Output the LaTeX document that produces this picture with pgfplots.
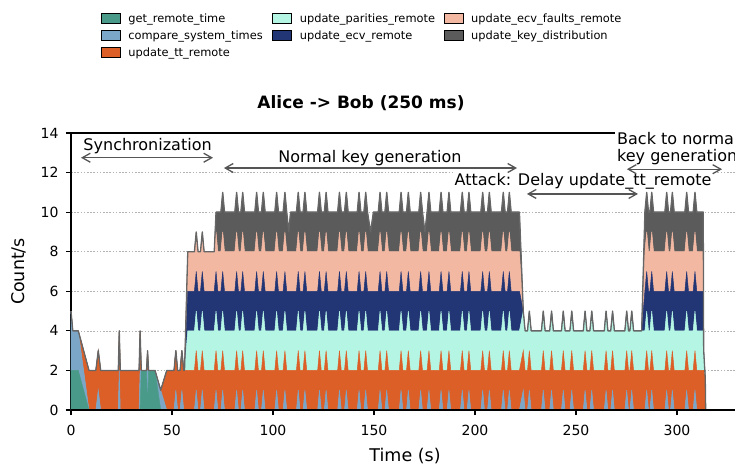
\documentclass[border=0pt]{standalone}
\usepackage{fontspec}
\setmainfont{DejaVu Sans}
\usepackage{pgfplots}
\pgfplotsset{compat=1.18}
\usepackage{pgfplotstable}
\usetikzlibrary{arrows.meta}
\definecolor{getc}{HTML}{4A9A89}
\definecolor{cmpc}{HTML}{7BA6C8}
\definecolor{ttc}{HTML}{DC5F27}
\definecolor{parc}{HTML}{B4F5E4}
\definecolor{ecvc}{HTML}{223575}
\definecolor{fltc}{HTML}{F3B8A2}
\definecolor{keyc}{HTML}{5B5B5B}
\definecolor{linec}{HTML}{666666}
\definecolor{arrowc}{HTML}{555555}

\pgfplotstableread{
t g c u p e f k
0.0 2 3 0 0 0 0 0
0.9 2 2 0 0 0 0 0
3.6 2 2 0 0 0 0 0
8.9 0 0 2 0 0 0 0
12.3 0 0 2 0 0 0 0
13.5 0 1 2 0 0 0 0
14.7 0 0 2 0 0 0 0
23.4 0 0 2 0 0 0 0
23.9 0 2 2 0 0 0 0
24.4 0 0 2 0 0 0 0
33.7 0 0 2 0 0 0 0
34.2 0 2 2 0 0 0 0
34.8 2 0 0 0 0 0 0
37.4 2 0 0 0 0 0 0
37.9 0 2 1 0 0 0 0
38.4 2 0 0 0 0 0 0
41.6 2 0 0 0 0 0 0
44.4 0 1 0 0 0 0 0
47.4 0 0 2 0 0 0 0
51.0 0 0 2 0 0 0 0
51.9 0 1 2 0 0 0 0
52.8 0 0 2 0 0 0 0
54.0 0 0 2 0 0 0 0
54.9 0 1 2 0 0 0 0
55.8 0 0 2 0 0 0 0
56.2 0 0 2 0 0 0 0
57.8 0 0 2 2 2 2 0
61.1 0 0 2 2 2 2 0
62.0 0 1 2 2 2 2 0
62.9 0 0 2 2 2 2 0
64.1 0 0 2 2 2 2 0
65.0 0 1 2 2 2 2 0
65.9 0 0 2 2 2 2 0
70.9 0 0 2 2 2 2 0
71.8 0 1 2 2 2 2 1
72.7 0 0 2 2 2 2 2
74.2 0 0 2 2 2 2 2
75.1 0 1 2 2 2 2 2
76.0 0 0 2 2 2 2 2
81.1 0 0 2 2 2 2 2
82.0 0 1 2 2 2 2 2
82.9 0 0 2 2 2 2 2
84.1 0 0 2 2 2 2 2
85.0 0 1 2 2 2 2 2
85.9 0 0 2 2 2 2 2
91.0 0 0 2 2 2 2 2
91.9 0 1 2 2 2 2 2
92.8 0 0 2 2 2 2 2
94.3 0 0 2 2 2 2 2
95.2 0 1 2 2 2 2 2
96.1 0 0 2 2 2 2 2
100.9 0 0 2 2 2 2 2
101.8 0 1 2 2 2 2 2
102.7 0 0 2 2 2 2 2
105.0 0 0 2 2 2 2 2
105.9 0 1 2 2 2 2 2
106.8 0 0 2 2 2 2 2
107.8 0 0 2 2 2 2 1
108.7 0 0 2 2 2 2 2
111.6 0 0 2 2 2 2 2
112.5 0 1 2 2 2 2 2
113.4 0 0 2 2 2 2 2
114.9 0 0 2 2 2 2 2
115.8 0 1 2 2 2 2 2
116.7 0 0 2 2 2 2 2
122.1 0 0 2 2 2 2 2
123.0 0 1 2 2 2 2 2
123.9 0 0 2 2 2 2 2
125.4 0 0 2 2 2 2 2
126.3 0 1 2 2 2 2 2
127.2 0 0 2 2 2 2 2
132.0 0 0 2 2 2 2 2
132.9 0 1 2 2 2 2 2
133.8 0 0 2 2 2 2 2
135.4 0 0 2 2 2 2 2
136.3 0 1 2 2 2 2 2
137.2 0 0 2 2 2 2 2
141.7 0 0 2 2 2 2 2
142.6 0 1 2 2 2 2 2
143.5 0 0 2 2 2 2 2
145.0 0 0 2 2 2 2 2
145.9 0 1 2 2 2 2 2
146.8 0 0 2 2 2 2 2
148.3 0 0 2 2 2 2 1
149.7 0 0 2 2 2 2 2
152.1 0 0 2 2 2 2 2
153.0 0 1 2 2 2 2 2
153.9 0 0 2 2 2 2 2
155.4 0 0 2 2 2 2 2
156.3 0 1 2 2 2 2 2
157.2 0 0 2 2 2 2 2
162.5 0 0 2 2 2 2 2
163.4 0 1 2 2 2 2 2
164.3 0 0 2 2 2 2 2
166.1 0 0 2 2 2 2 2
167.0 0 1 2 2 2 2 2
167.9 0 0 2 2 2 2 2
172.2 0 0 2 2 2 2 2
173.1 0 1 2 2 2 2 2
174.0 0 0 2 2 2 2 2
175.2 0 0 2 2 2 2 1
176.3 0 0 2 2 2 2 2
177.2 0 1 2 2 2 2 2
178.1 0 0 2 2 2 2 2
182.3 0 0 2 2 2 2 2
183.2 0 1 2 2 2 2 2
184.1 0 0 2 2 2 2 2
186.2 0 0 2 2 2 2 2
187.1 0 1 2 2 2 2 2
188.0 0 0 2 2 2 2 2
192.8 0 0 2 2 2 2 2
193.7 0 1 2 2 2 2 2
194.6 0 0 2 2 2 2 2
196.1 0 0 2 2 2 2 2
197.0 0 1 2 2 2 2 2
197.9 0 0 2 2 2 2 2
202.9 0 0 2 2 2 2 2
203.8 0 1 2 2 2 2 2
204.7 0 0 2 2 2 2 2
206.2 0 0 2 2 2 2 2
207.1 0 1 2 2 2 2 2
208.0 0 0 2 2 2 2 2
213.1 0 0 2 2 2 2 2
214.0 0 1 2 2 2 2 2
214.9 0 0 2 2 2 2 2
216.1 0 0 2 2 2 2 2
217.0 0 1 2 2 2 2 2
217.9 0 0 2 2 2 2 2
222.0 0 0 2 2 2 2 2
223.9 0 1 2 2 0 0 0
224.8 0 0 2 2 0 0 0
226.0 0 0 2 2 0 0 0
226.9 0 1 2 2 0 0 0
227.8 0 0 2 2 0 0 0
232.9 0 0 2 2 0 0 0
233.8 0 1 2 2 0 0 0
234.7 0 0 2 2 0 0 0
237.0 0 0 2 2 0 0 0
237.9 0 1 2 2 0 0 0
238.8 0 0 2 2 0 0 0
242.8 0 0 2 2 0 0 0
243.7 0 1 2 2 0 0 0
244.6 0 0 2 2 0 0 0
247.0 0 0 2 2 0 0 0
247.9 0 1 2 2 0 0 0
248.8 0 0 2 2 0 0 0
253.6 0 0 2 2 0 0 0
254.5 0 1 2 2 0 0 0
255.4 0 0 2 2 0 0 0
256.9 0 0 2 2 0 0 0
257.8 0 1 2 2 0 0 0
258.7 0 0 2 2 0 0 0
264.0 0 0 2 2 0 0 0
264.9 0 1 2 2 0 0 0
265.8 0 0 2 2 0 0 0
267.2 0 0 2 2 0 0 0
268.1 0 1 2 2 0 0 0
269.0 0 0 2 2 0 0 0
274.2 0 0 2 2 0 0 0
275.1 0 1 2 2 0 0 0
276.0 0 0 2 2 0 0 0
276.7 0 0 2 2 0 0 0
277.6 0 1 2 2 0 0 0
278.5 0 0 2 2 0 0 0
282.5 0 0 2 2 0 0 0
284.1 0 0 2 2 2 2 2
285.0 0 1 2 2 2 2 2
285.9 0 0 2 2 2 2 2
286.6 0 0 2 2 2 2 2
287.5 0 1 2 2 2 2 2
288.4 0 0 2 2 2 2 2
294.0 0 0 2 2 2 2 2
294.9 0 1 2 2 2 2 2
295.8 0 0 2 2 2 2 2
296.8 0 0 2 2 2 2 2
297.7 0 1 2 2 2 2 2
298.6 0 0 2 2 2 2 2
303.9 0 0 2 2 2 2 2
304.8 0 1 2 2 2 2 2
305.7 0 0 2 2 2 2 2
308.0 0 0 2 2 2 2 2
308.9 0 1 2 2 2 2 2
309.8 0 0 2 2 2 2 2
313.0 0 0 2 2 2 2 2
313.2 0 0 2 1 0 0 0
314.0 0 0 1.6 0 0 0 0
314.2 0 0 0 0 0 0 0
}\data
\pgfplotstablecreatecol[create col/expr={\thisrow{g}+\thisrow{c}+\thisrow{u}+\thisrow{p}+\thisrow{e}+\thisrow{f}+\thisrow{k}}]{top}{\data}

\newcommand{\lgs}{\rule[-3.5pt]{0pt}{13pt}}

\begin{document}
\begin{tikzpicture}
\begin{axis}[
  at={(71pt,54pt)}, anchor=south west,
  width=668pt, height=277pt, scale only axis,
  xmin=0, xmax=330.7, ymin=0, ymax=14,
  xtick={0,50,...,300}, ytick={0,2,...,14},
  tick pos=left, tick align=outside,
  major tick length=5pt,
  tick style={black, line width=1.1pt},
  axis line style={line width=1.1pt},
  ymajorgrids,
  grid style={black!30, line width=0.6pt, dash pattern=on 1.6pt off 1.6pt},
  /pgf/number format/assume math mode=true,
  tick label style={font=\fontsize{14}{16}\selectfont},
  xticklabel style={yshift=-7pt},
  yticklabel style={xshift=-4pt},
  xlabel={Time (s)}, ylabel={Count/s},
  label style={font=\fontsize{17.5}{20}\selectfont},
  xlabel style={at={(axis description cs:0.5,-0.165)}, anchor=center},
  ylabel style={at={(axis description cs:-0.078,0.5)}, anchor=center},
  stack plots=y,
  legend columns=3,
  legend cell align=left,
  legend image code/.code={\path[#1] (0pt,-5pt) rectangle (19pt,5pt);},
  legend style={at={(axis description cs:0.0449,1.4332)}, anchor=north west,
    draw=none, fill=none, inner sep=0pt, outer sep=0pt,
    row sep=6pt, column sep=0pt,
    font=\fontsize{11.4}{14}\selectfont,
    nodes={inner sep=0pt, outer sep=0pt}},
]
\addplot[fill=getc, draw=getc, line width=0.5pt, forget plot] table[x=t,y=g]{\data} \closedcycle;
\addplot[fill=cmpc, draw=cmpc, line width=0.5pt, forget plot] table[x=t,y=c]{\data} \closedcycle;
\addplot[fill=ttc, draw=ttc, line width=0.5pt, forget plot] table[x=t,y=u]{\data} \closedcycle;
\addplot[fill=parc, draw=parc, line width=0.5pt, forget plot] table[x=t,y=p]{\data} \closedcycle;
\addplot[fill=ecvc, draw=ecvc, line width=0.5pt, forget plot] table[x=t,y=e]{\data} \closedcycle;
\addplot[fill=fltc, draw=fltc, line width=0.5pt, forget plot] table[x=t,y=f]{\data} \closedcycle;
\addplot[fill=keyc, draw=keyc, line width=0.5pt, forget plot] table[x=t,y=k]{\data} \closedcycle;

\addlegendimage{fill=getc}
\addlegendentry{\makebox[152pt][l]{\hspace{8pt}get\_remote\_time\lgs}}
\addlegendimage{fill=parc}
\addlegendentry{\makebox[152pt][l]{\hspace{8pt}update\_parities\_remote\lgs}}
\addlegendimage{fill=fltc}
\addlegendentry{\makebox[152pt][l]{\hspace{8pt}update\_ecv\_faults\_remote\lgs}}
\addlegendimage{fill=cmpc}
\addlegendentry{\makebox[152pt][l]{\hspace{8pt}compare\_system\_times\lgs}}
\addlegendimage{fill=ecvc}
\addlegendentry{\makebox[152pt][l]{\hspace{8pt}update\_ecv\_remote\lgs}}
\addlegendimage{fill=keyc}
\addlegendentry{\makebox[152pt][l]{\hspace{8pt}update\_key\_distribution\lgs}}
\addlegendimage{fill=ttc}
\addlegendentry{\makebox[152pt][l]{\hspace{8pt}update\_tt\_remote\lgs}}

\coordinate (s1) at (axis cs:4.95,12.75);
\coordinate (s2) at (axis cs:70.3,12.75);
\coordinate (st) at (axis cs:37.9,13.12);
\coordinate (n1) at (axis cs:75.7,12.23);
\coordinate (n2) at (axis cs:220.8,12.23);
\coordinate (nt) at (axis cs:148,12.51);
\coordinate (a1) at (axis cs:225.7,10.92);
\coordinate (a2) at (axis cs:280.7,10.92);
\coordinate (at) at (axis cs:253.5,11.35);
\coordinate (b1) at (axis cs:275.2,12.17);
\coordinate (b2) at (axis cs:322.3,12.17);
\coordinate (bt1) at (axis cs:269.3,13.44);
\coordinate (bt2) at (axis cs:269.3,12.55);
\coordinate (xl) at (axis cs:0,0);
\coordinate (xr) at (axis cs:330.7,0);
\end{axis}
\begin{axis}[
  at={(71pt,54pt)}, anchor=south west,
  width=668pt, height=277pt, scale only axis,
  xmin=0, xmax=330.7, ymin=0, ymax=14,
  hide axis]
\addplot[draw=linec, line width=1.3pt, line join=round] table[x=t,y=top]{\data};
\end{axis}
\draw[black, line width=1.1pt] (xl) -- (xr);
\pgfresetboundingbox
\useasboundingbox (0,0) rectangle (735pt,464pt);

\node[font=\bfseries\fontsize{17}{20}\selectfont] at (361pt,361pt) {Alice -> Bob (250 ms)};

\begin{scope}[font=\fontsize{16}{19}\selectfont]
\node[anchor=base, fill=white, inner sep=2pt] at (st) {Synchronization};
\node[anchor=base, fill=white, inner sep=2pt] at (nt) {Normal key generation};
\node[anchor=base, fill=white, inner sep=2pt] at (at) {Attack: Delay update\_tt\_remote};
\node[anchor=base west, fill=white, inner sep=2pt] at (bt1) {Back to normal};
\node[anchor=base west, fill=white, inner sep=2pt] at (bt2) {key generation};
\end{scope}
\begin{scope}[color=arrowc, line width=1.3pt, {Straight Barb[length=8pt,width=9pt]}-{Straight Barb[length=8pt,width=9pt]}]
\draw (s1) -- (s2);
\draw (n1) -- (n2);
\draw (a1) -- (a2);
\draw (b1) -- (b2);
\end{scope}
\end{tikzpicture}
\end{document}
